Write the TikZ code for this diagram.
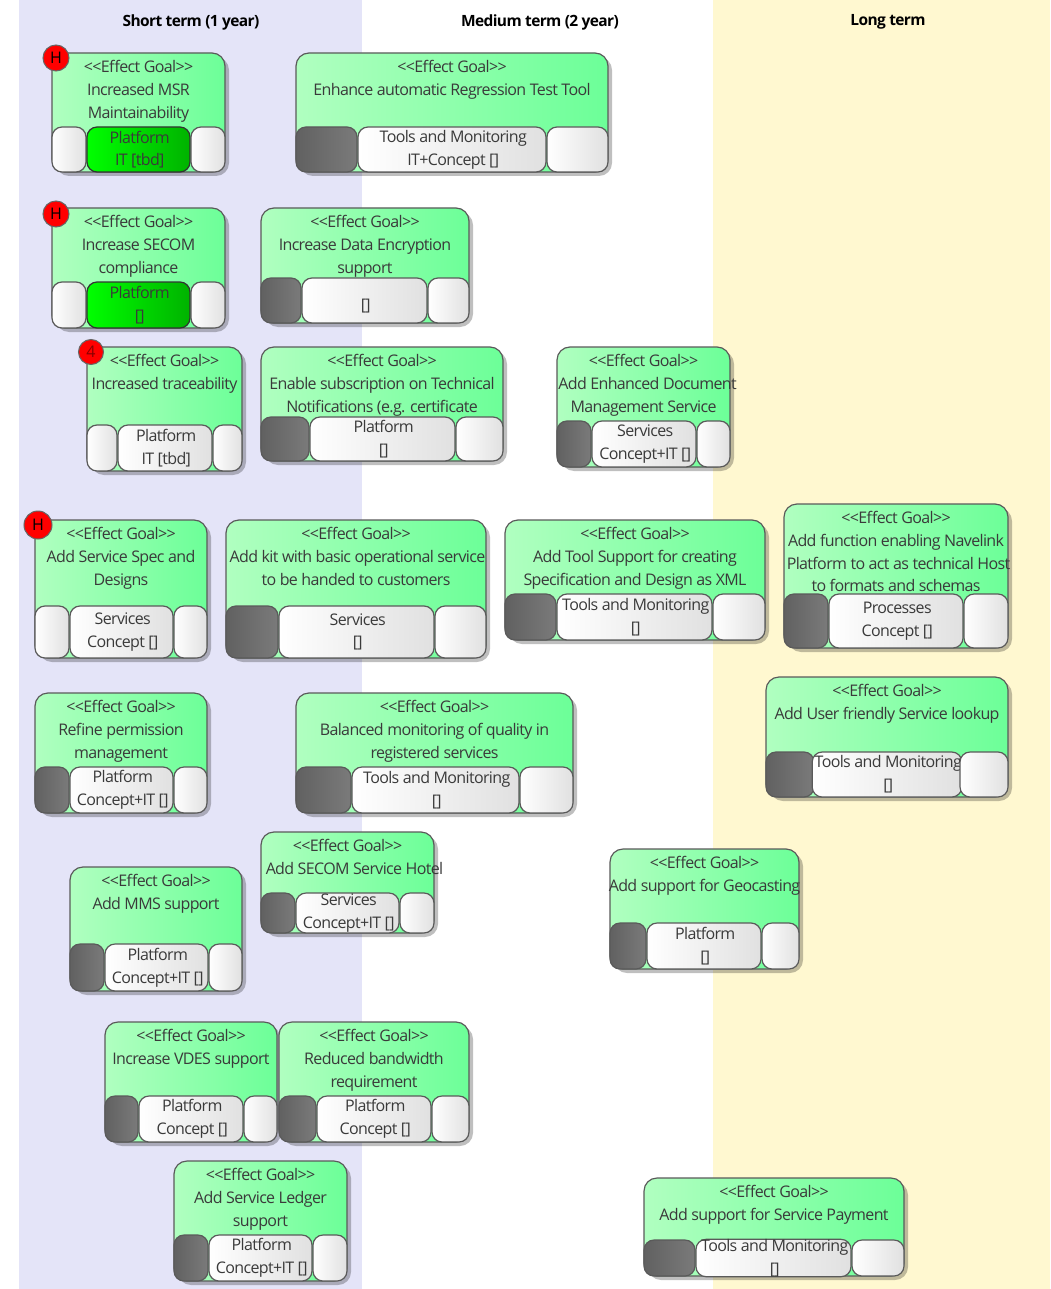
\documentclass[tikz,border=0pt]{standalone}
\usepackage{fontspec}
\setmainfont{Open Sans}[LetterSpace=-4]
\usepackage{tikz}
\usetikzlibrary{shadows}
\definecolor{shortbg}{HTML}{E4E4F8}
\definecolor{longbg}{HTML}{FFF8D0}
\definecolor{edgecol}{HTML}{5A5A5A}
\definecolor{inkcol}{HTML}{3A3A3A}
\definecolor{goalleft}{HTML}{B0FFC0}
\definecolor{goalright}{HTML}{6CFF98}
\newcommand{\goaltag}{<{}<Effect Goal>{}>}
\tikzset{
  goalbox/.style 2 args={rectangle, rounded corners=13pt, draw=edgecol, line width=1.2pt, left color=goalleft, right color=goalright, minimum width=#1pt, minimum height=#2pt, inner sep=0pt, drop shadow={shadow xshift=4pt, shadow yshift=-4pt, fill=black, opacity=0.25}},
  goaltext/.style={anchor=north, yshift=-8pt, align=center, inner sep=0pt, text=inkcol, font=\fontsize{16}{22.7}\selectfont},
  whitecell/.style 2 args={rectangle, rounded corners=10pt, draw=edgecol, line width=1.2pt, left color=white, right color=black!12, minimum width=#1pt, minimum height=#2pt, inner sep=0pt, align=center, text=inkcol, font=\fontsize{16}{22.7}\selectfont, execute at begin node={\hspace*{2.5pt}\rule{0pt}{17.5pt}}},
  darkcell/.style 2 args={whitecell={#1}{#2}, left color=black!62, right color=black!52},
  greencell/.style 2 args={whitecell={#1}{#2}, draw=black!80, left color=green, right color=green!70!black},
  badge/.style={circle, draw=black!60, line width=1pt, fill=red, minimum size=#1pt, inner sep=0pt, text=black, font=\fontsize{16}{16}\selectfont},
  badge/.default=26,
  heading/.style={inner sep=0pt, text=black, font=\fontsize{15.5}{18}\selectfont\bfseries}
}
\begin{document}
\begin{tikzpicture}[x=1pt, y=-1pt]
  \useasboundingbox (0,0) rectangle (1050,1289);
  % Term columns
  \fill[white] (0,0) rectangle (1050,1289);
  \fill[shortbg] (19,0) rectangle (362,1289);
  \fill[longbg] (713,0) rectangle (1050,1289);
  \node[heading] (shortH) at (191,22) {Short term (1 year)};
  \node[heading] (mediumH) at (540,22) {Medium term (2 year)};
  \node[heading] (longH) at (888,22) {Long term};

  % Row 1
  \node[goalbox={173}{119}] (msr) at (138.5,112.5) {};
  \node[goaltext] (msrT) at (msr.north) {\goaltag\\Increased MSR\\Maintainability};
  \node[whitecell={34}{45}] (msrL) at (69,149.5) {};
  \node[greencell={103}{45}] (msrM) at (138.5,149.5) {Platform\\IT [tbd]};
  \node[whitecell={34}{45}] (msrR) at (208,149.5) {};
  \node[badge] (msrB) at (56,58) {H};

  \node[goalbox={312}{119}] (reg) at (452,112.5) {};
  \node[goaltext] (regT) at (reg.north) {\goaltag\\Enhance automatic Regression Test Tool};
  \node[darkcell={61}{45}] (regL) at (326.5,149.5) {};
  \node[whitecell={188}{45}] (regM) at (452,149.5) {Tools and Monitoring\\IT+Concept []};
  \node[whitecell={61}{45}] (regR) at (577.5,149.5) {};

  % Row 2
  \node[goalbox={173}{120}] (secom) at (138.5,268) {};
  \node[goaltext] (secomT) at (secom.north) {\goaltag\\Increase SECOM\\compliance};
  \node[whitecell={34}{46}] (secomL) at (69,305) {};
  \node[greencell={103}{46}] (secomM) at (138.5,305) {Platform\\{[]}};
  \node[whitecell={34}{46}] (secomR) at (208,305) {};
  \node[badge] (secomB) at (56,214) {H};

  \node[goalbox={208}{115}] (crypt) at (365,265.5) {};
  \node[goaltext] (cryptT) at (crypt.north) {\goaltag\\Increase Data Encryption\\support};
  \node[darkcell={40}{45}] (cryptL) at (281,300.5) {};
  \node[whitecell={125}{45}] (cryptM) at (364.5,300.5) {~\\{[]}};
  \node[whitecell={41}{45}] (cryptR) at (448.5,300.5) {};

  % Row 3
  \node[goalbox={155}{124}] (trace) at (164.5,409) {};
  \node[goaltext] (traceT) at (trace.north) {\goaltag\\Increased traceability};
  \node[whitecell={30}{46}] (traceL) at (102,448) {};
  \node[whitecell={94}{46}] (traceM) at (165,448) {Platform\\IT [tbd]};
  \node[whitecell={29}{46}] (traceR) at (227.5,448) {};
  \node[badge=25, text=red!55!black] (traceB) at (91,352) {4};

  \node[goalbox={242}{114}] (notif) at (382,404) {};
  \node[goaltext] (notifT) at (notif.north) {\goaltag\\Enable subscription on Technical\\Notifications (e.g. certificate};
  \node[darkcell={48}{44}] (notifL) at (285,439) {};
  \node[whitecell={145}{44}] (notifM) at (382.5,439) {Platform\\{[]}};
  \node[whitecell={47}{44}] (notifR) at (479.5,439) {};

  \node[goalbox={173}{120}] (doc) at (643.5,407) {};
  \node[goaltext] (docT) at (doc.north) {\goaltag\\\hspace*{8pt}Add Enhanced Document\\Management Service};
  \node[darkcell={34}{46}] (docL) at (574,444) {};
  \node[whitecell={104}{46}] (docM) at (644,444) {Services\\Concept+IT []};
  \node[whitecell={33}{46}] (docR) at (713.5,444) {};

  % Row 4
  \node[goalbox={172}{138}] (spec) at (121,589) {};
  \node[goaltext] (specT) at (spec.north) {\goaltag\\Add Service Spec and\\Designs};
  \node[whitecell={34}{52}] (specL) at (52,632) {};
  \node[whitecell={103}{52}] (specM) at (121.5,632) {Services\\Concept []};
  \node[whitecell={33}{52}] (specR) at (190.5,632) {};
  \node[badge=28] (specB) at (38,525) {H};

  \node[goalbox={260}{138}] (kit) at (356,589) {};
  \node[goaltext] (kitT) at (kit.north) {\goaltag\\\hspace*{3pt}Add kit with basic operational service\\to be handed to customers};
  \node[darkcell={52}{52}] (kitL) at (252,632) {};
  \node[whitecell={155}{52}] (kitM) at (356.5,632) {Services\\{[]}};
  \node[whitecell={51}{52}] (kitR) at (460.5,632) {};

  \node[goalbox={260}{120}] (xml) at (635,580) {};
  \node[goaltext] (xmlT) at (xml.north) {\goaltag\\Add Tool Support for creating\\Specification and Design as XML};
  \node[darkcell={51}{46}] (xmlL) at (530.5,617) {};
  \node[whitecell={155}{46}] (xmlM) at (634.5,617) {Tools and Monitoring\\{[]}};
  \node[whitecell={52}{46}] (xmlR) at (739,617) {};

  \node[goalbox={224}{144}] (host) at (896,576) {};
  \node[goaltext] (hostT) at (host.north) {\goaltag\\Add function enabling Navelink\\\hspace*{5pt}Platform to act as technical Host\\to formats and schemas};
  \node[darkcell={44}{54}] (hostL) at (806,621) {};
  \node[whitecell={134}{54}] (hostM) at (896,621) {Processes\\Concept []};
  \node[whitecell={44}{54}] (hostR) at (986,621) {};

  % Row 5
  \node[goalbox={172}{120}] (perm) at (121,753) {};
  \node[goaltext] (permT) at (perm.north) {\goaltag\\Refine permission\\management};
  \node[darkcell={34}{46}] (permL) at (52,790) {};
  \node[whitecell={103}{46}] (permM) at (121.5,790) {Platform\\Concept+IT []};
  \node[whitecell={33}{46}] (permR) at (190.5,790) {};

  \node[goalbox={277}{120}] (qual) at (434.5,753) {};
  \node[goaltext] (qualT) at (qual.north) {\goaltag\\Balanced monitoring of quality in\\registered services};
  \node[darkcell={55}{46}] (qualL) at (323.5,790) {};
  \node[whitecell={167}{46}] (qualM) at (435.5,790) {Tools and Monitoring\\{[]}};
  \node[whitecell={53}{46}] (qualR) at (546.5,790) {};

  \node[goalbox={242}{120}] (lookup) at (887,737) {};
  \node[goaltext] (lookupT) at (lookup.north) {\goaltag\\Add User friendly Service lookup};
  \node[darkcell={48}{45}] (lookupL) at (790,774.5) {};
  \node[whitecell={144}{45}] (lookupM) at (887,774.5) {Tools and Monitoring\\{[]}};
  \node[whitecell={48}{45}] (lookupR) at (984,774.5) {};

  % Row 6
  \node[goalbox={173}{101}] (hotel) at (347.5,882.5) {};
  \node[goaltext] (hotelT) at (hotel.north) {\goaltag\\\hspace*{14pt}Add SECOM Service Hotel};
  \node[darkcell={34}{40}] (hotelL) at (278,913) {};
  \node[whitecell={103}{40}] (hotelM) at (347.5,913) {Services\\Concept+IT []};
  \node[whitecell={34}{40}] (hotelR) at (417,913) {};

  \node[goalbox={172}{124}] (mms) at (156,929) {};
  \node[goaltext] (mmsT) at (mms.north) {\goaltag\\Add MMS support};
  \node[darkcell={34}{47}] (mmsL) at (87,967.5) {};
  \node[whitecell={103}{47}] (mmsM) at (156.5,967.5) {Platform\\Concept+IT []};
  \node[whitecell={33}{47}] (mmsR) at (225.5,967.5) {};

  \node[goalbox={189}{120}] (geo) at (704.5,909) {};
  \node[goaltext] (geoT) at (geo.north) {\goaltag\\Add support for Geocasting};
  \node[darkcell={36}{46}] (geoL) at (628,946) {};
  \node[whitecell={114}{46}] (geoM) at (704,946) {Platform\\{[]}};
  \node[whitecell={37}{46}] (geoR) at (780.5,946) {};

  % Row 7
  \node[goalbox={172}{120}] (vdes) at (191,1082) {};
  \node[goaltext] (vdesT) at (vdes.north) {\goaltag\\Increase VDES support};
  \node[darkcell={33}{46}] (vdesL) at (121.5,1119) {};
  \node[whitecell={104}{46}] (vdesM) at (191,1119) {Platform\\Concept []};
  \node[whitecell={33}{46}] (vdesR) at (260.5,1119) {};

  \node[goalbox={190}{120}] (band) at (374,1082) {};
  \node[goaltext] (bandT) at (band.north) {\goaltag\\Reduced bandwidth\\requirement};
  \node[darkcell={37}{46}] (bandL) at (297.5,1119) {};
  \node[whitecell={114}{46}] (bandM) at (374,1119) {Platform\\Concept []};
  \node[whitecell={37}{46}] (bandR) at (450.5,1119) {};

  % Row 8
  \node[goalbox={173}{120}] (ledger) at (260.5,1221) {};
  \node[goaltext] (ledgerT) at (ledger.north) {\goaltag\\Add Service Ledger\\support};
  \node[darkcell={34}{46}] (ledgerL) at (191,1258) {};
  \node[whitecell={103}{46}] (ledgerM) at (260.5,1258) {Platform\\Concept+IT []};
  \node[whitecell={34}{46}] (ledgerR) at (330,1258) {};

  \node[goalbox={260}{98}] (pay) at (774,1227) {};
  \node[goaltext] (payT) at (pay.north) {\goaltag\\Add support for Service Payment};
  \node[darkcell={51}{36}] (payL) at (669.5,1258) {};
  \node[whitecell={155}{36}] (payM) at (773.5,1258) {Tools and Monitoring\\{[]}};
  \node[whitecell={52}{36}] (payR) at (878,1258) {};
\end{tikzpicture}
\end{document}
